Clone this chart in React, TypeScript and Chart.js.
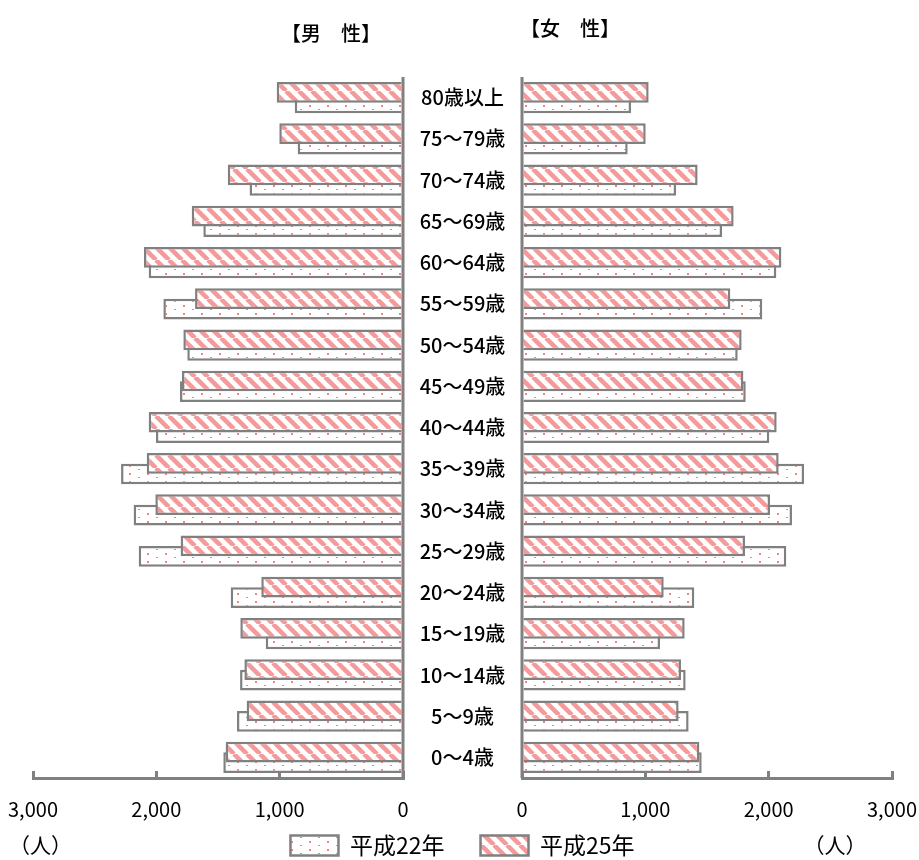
import { useEffect, useRef } from 'react';
import { Chart, registerables } from 'chart.js';

Chart.register(...registerables);

// Age groups, oldest at the top
const AGE_GROUPS = [
  '80歳以上', '75～79歳', '70～74歳', '65～69歳', '60～64歳', '55～59歳',
  '50～54歳', '45～49歳', '40～44歳', '35～39歳', '30～34歳', '25～29歳',
  '20～24歳', '15～19歳', '10～14歳', '5～9歳', '0～4歳',
];

// Population (persons) per age group
const MALE_H22 = [878, 854, 1244, 1619, 2062, 1943, 1749, 1808, 2003, 2286, 2184, 2143, 1397, 1113, 1321, 1346, 1457];
const MALE_H25 = [1024, 1003, 1421, 1713, 2100, 1686, 1781, 1792, 2062, 2078, 2008, 1803, 1149, 1319, 1286, 1268, 1438];
const FEMALE_H22 = [884, 857, 1249, 1622, 2062, 1948, 1749, 1814, 2005, 2287, 2189, 2143, 1397, 1119, 1327, 1351, 1457];
const FEMALE_H25 = [1027, 1003, 1424, 1716, 2103, 1689, 1781, 1795, 2065, 2081, 2011, 1808, 1149, 1319, 1289, 1270, 1438];

const SERIES_LABELS = ['平成22年', '平成25年'];
const TITLES = ['【男　性】', '【女　性】'];
const UNIT = '（人）';
const AXIS_MAX = 3000;
const AXIS_STEP = 1000;

const FONT = '"Noto Sans CJK JP", "Noto Sans", sans-serif';
const LINE_GRAY = '#808080';
const PINK = '#f49a9a';
const DOT_PINK = '#f08484';

function makeHatch(): CanvasPattern | string {
  const s = 13;
  const c = document.createElement('canvas');
  c.width = s;
  c.height = s;
  const g = c.getContext('2d');
  if (!g) return PINK;
  g.fillStyle = '#ffffff';
  g.fillRect(0, 0, s, s);
  g.strokeStyle = PINK;
  g.lineWidth = 4.5;
  g.beginPath();
  for (const o of [-s, 0, s]) {
    g.moveTo(o, 0);
    g.lineTo(o + s, s);
  }
  g.stroke();
  return g.createPattern(c, 'repeat') || PINK;
}

function makeDots(): CanvasPattern | string {
  const w = 18;
  const h = 8;
  const c = document.createElement('canvas');
  c.width = w;
  c.height = h;
  const g = c.getContext('2d');
  if (!g) return '#fff';
  g.fillStyle = '#ffffff';
  g.fillRect(0, 0, w, h);
  g.fillStyle = DOT_PINK;
  g.fillRect(3, 1, 2, 2);
  g.fillRect(12, 5, 2, 1);
  return g.createPattern(c, 'repeat') || '#fff';
}

// Titles, centre labels, base lines and unit captions
const pyramidText = {
  id: 'pyramidText',
  afterDatasetsDraw(chart: any) {
    const { ctx, chartArea, scales } = chart;
    const xL = scales.xL;
    const xR = scales.xR;
    const xGap = scales.xGap;
    const y = scales.y;
    ctx.save();

    ctx.strokeStyle = LINE_GRAY;
    ctx.lineWidth = 3;
    ctx.beginPath();
    for (const px of [xL.getPixelForValue(0), xR.getPixelForValue(0)]) {
      ctx.moveTo(px, chartArea.top);
      ctx.lineTo(px, chartArea.bottom);
    }
    ctx.stroke();

    ctx.fillStyle = '#000';
    ctx.textBaseline = 'middle';
    ctx.textAlign = 'center';
    ctx.font = `500 20px ${FONT}`;
    const midX = (xGap.left + xGap.right) / 2;
    AGE_GROUPS.forEach((g, i) => ctx.fillText(g, midX, y.getPixelForValue(i)));

    ctx.font = `500 20px ${FONT}`;
    ctx.fillText(TITLES[0], xL.right - 72, chartArea.top - 44);
    ctx.fillText(TITLES[1], xR.left + 48, chartArea.top - 49);

    const hb = chart.legend && chart.legend.legendHitBoxes && chart.legend.legendHitBoxes[0];
    const unitY = hb ? hb.top + hb.height / 2 : chart.height - 15;
    ctx.font = `21px ${FONT}`;
    ctx.textAlign = 'left';
    ctx.fillText(UNIT, xL.left - 24, unitY);
    ctx.textAlign = 'center';
    ctx.fillText(UNIT, xR.right - 57, unitY);
    ctx.restore();
  },
};

export default function App() {
  const canvasRef = useRef<HTMLCanvasElement | null>(null);

  useEffect(() => {
    const canvas = canvasRef.current;
    if (!canvas) return;
    Chart.defaults.font.family = FONT;
    const dots = makeDots();
    const hatch = makeHatch();

    const bar = (label: string, data: number[], xAxisID: string, h25: boolean) => ({
      label,
      data,
      xAxisID,
      yAxisID: 'y',
      stack: h25 ? 'h25' : 'h22',
      order: h25 ? 0 : 1,
      backgroundColor: h25 ? hatch : dots,
      borderColor: LINE_GRAY,
      borderWidth: 2.5,
      categoryPercentage: 0.51,
      barPercentage: 1.97,
    });

    // Value axis with tick marks pointing up into the plot and labels below the
    // line; labels are mirrored so the thin axis box does not clip them.
    const valueAxis = (reverse: boolean) => ({
      type: 'linear' as const,
      position: 'bottom' as const,
      stack: 'x',
      stackWeight: 370,
      reverse,
      min: 0,
      max: AXIS_MAX,
      afterFit: (scale: any) => {
        scale.height = 20;
      },
      border: { display: true, color: LINE_GRAY, width: 3 },
      grid: {
        drawOnChartArea: false,
        drawTicks: true,
        tickLength: -7,
        color: LINE_GRAY,
        lineWidth: 3,
      },
      ticks: {
        stepSize: AXIS_STEP,
        mirror: true,
        padding: -43,
        color: '#000',
        font: { size: 20, family: FONT },
        maxRotation: 0,
        callback: (v: any) => Number(v).toLocaleString('en-US'),
      },
    });

    const chart = new Chart(canvas, {
      type: 'bar',
      data: {
        labels: AGE_GROUPS,
        datasets: [
          bar(SERIES_LABELS[0], MALE_H22, 'xL', false),
          bar(SERIES_LABELS[1], MALE_H25, 'xL', true),
          bar(SERIES_LABELS[0], FEMALE_H22, 'xR', false),
          bar(SERIES_LABELS[1], FEMALE_H25, 'xR', true),
        ] as any,
      },
      options: {
        indexAxis: 'y',
        animation: false,
        responsive: true,
        maintainAspectRatio: false,
        layout: { padding: { top: 77, left: 33, right: 27, bottom: -7 } },
        scales: {
          y: { type: 'category', display: false },
          xL: valueAxis(true),
          xGap: {
            type: 'linear',
            position: 'bottom',
            stack: 'x',
            stackWeight: 119,
            min: 0,
            max: 1,
            border: { display: false },
            grid: { display: false, drawTicks: false },
            ticks: { display: false },
          },
          xR: valueAxis(false),
        } as any,
        plugins: {
          tooltip: { enabled: false },
          legend: {
            position: 'bottom',
            labels: {
              filter: (item: any) => item.datasetIndex < 2,
              sort: (a: any, b: any) => a.datasetIndex - b.datasetIndex,
              boxWidth: 48,
              boxHeight: 20,
              padding: 36,
              color: '#000',
              font: { size: 23, family: FONT },
            },
          },
        },
      },
      plugins: [pyramidText],
    });

    return () => chart.destroy();
  }, []);

  return (
    <div style={{ position: 'fixed', left: 0, top: 0, width: 919, height: 860, background: '#fff' }}>
      <canvas ref={canvasRef} />
    </div>
  );
}
